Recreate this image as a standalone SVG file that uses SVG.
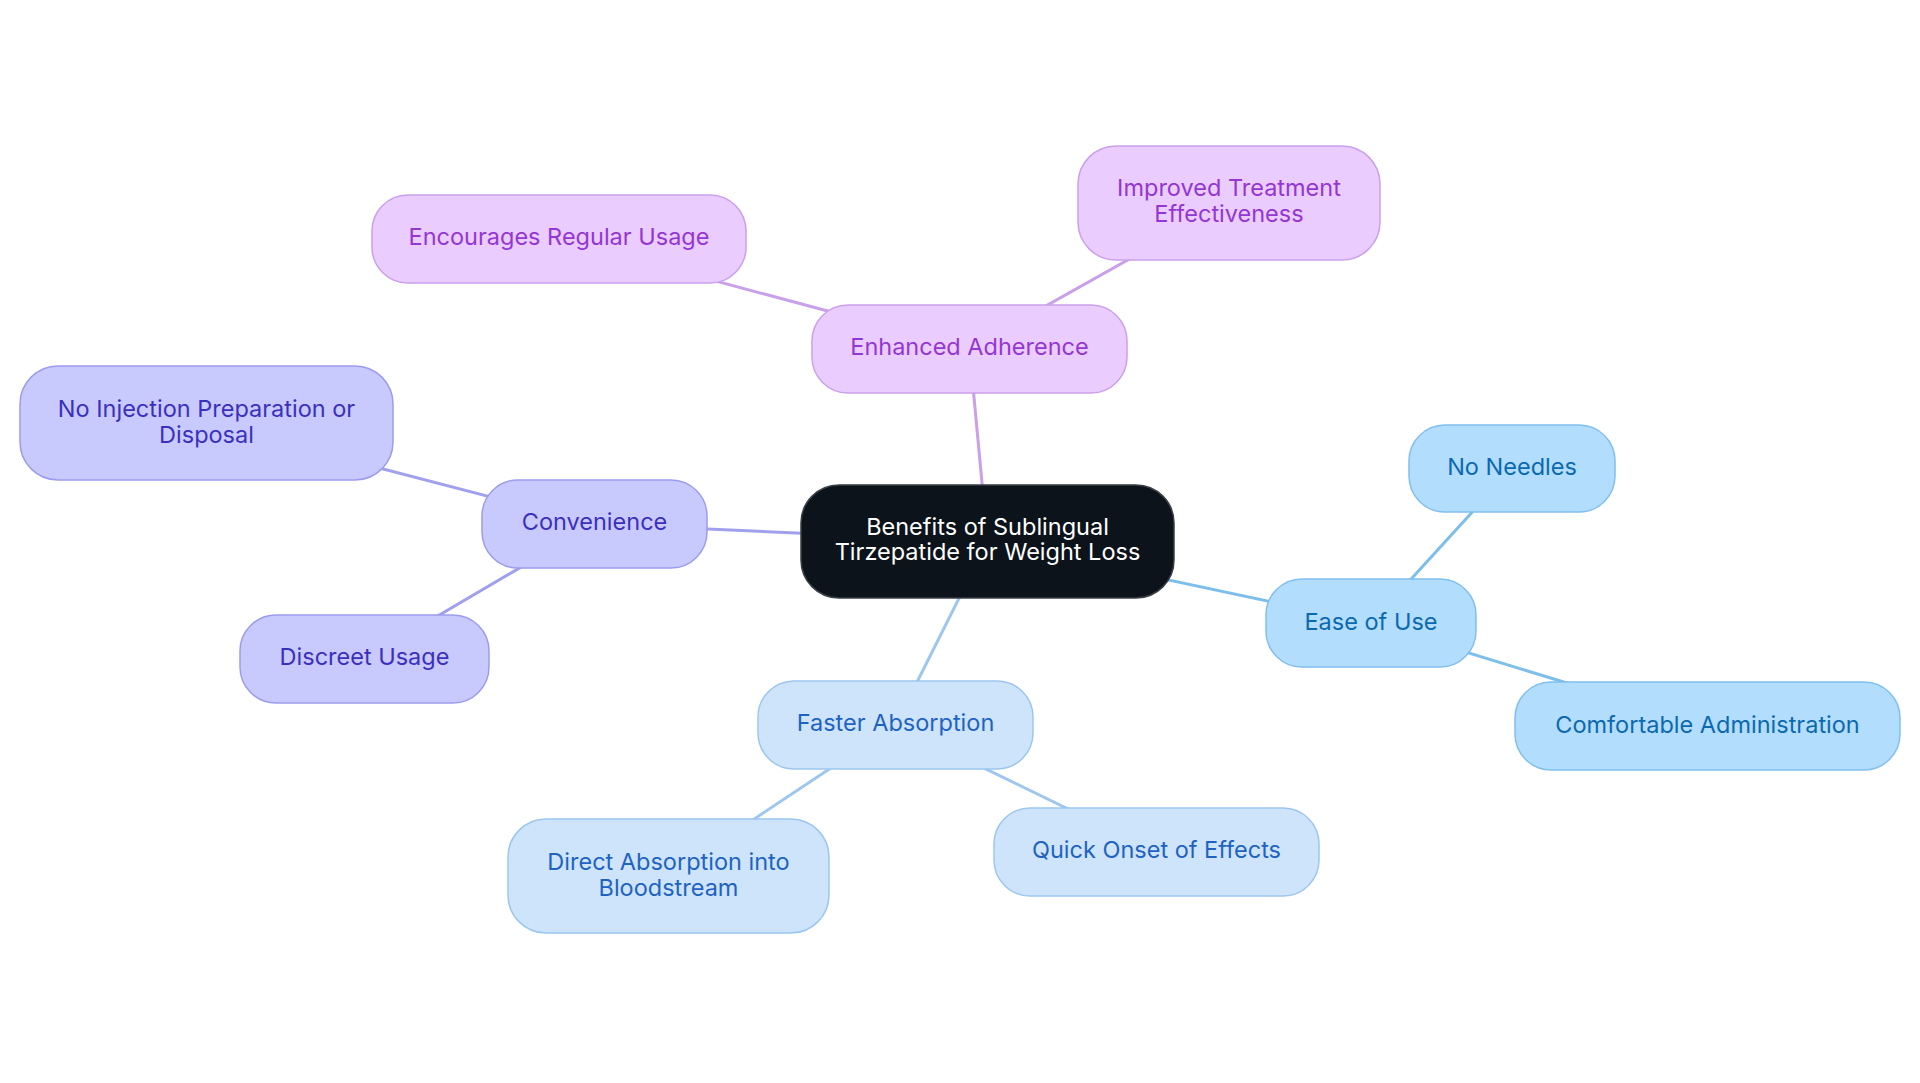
<svg xmlns="http://www.w3.org/2000/svg" width="1920" height="1083" viewBox="0 0 1920 1083">
<style>
text{font-family:Inter,"Noto Sans","Liberation Sans",sans-serif;font-size:23.5px;text-anchor:middle}
.c0 rect{fill:#0d131a;stroke:#3a3f46;stroke-width:1.5}
.c0 text{fill:#ffffff}
.pu rect{fill:#eaccfe;stroke:#caa0ec;stroke-width:1.5}
.pu text{fill:#9436d4}
.in rect{fill:#c8c9fd;stroke:#9c9cee;stroke-width:1.5}
.in text{fill:#3b30bd}
.lb rect{fill:#cee4fb;stroke:#9cc6ef;stroke-width:1.5}
.lb text{fill:#1e63c2}
.sb rect{fill:#b3ddfc;stroke:#80bfee;stroke-width:1.5}
.sb text{fill:#0b69b0}
#connectors line{stroke-width:3;stroke-linecap:round}
.lpu{stroke:#c9a0ea}
.lin{stroke:#a0a0ec}
.llb{stroke:#9fc6ee}
.lsb{stroke:#7dbfea}
</style>
<rect width="1920" height="1083" fill="#ffffff"/>
<g id="connectors">
<line class="lpu" x1="987.5" y1="541.5" x2="969.5" y2="349"/>
<line class="lpu" x1="969.5" y1="349" x2="559" y2="239"/>
<line class="lpu" x1="969.5" y1="349" x2="1229" y2="203"/>
<line class="lin" x1="987.5" y1="541.5" x2="594.5" y2="524"/>
<line class="lin" x1="594.5" y1="524" x2="206.5" y2="423"/>
<line class="lin" x1="594.5" y1="524" x2="364.5" y2="659"/>
<line class="lsb" x1="987.5" y1="541.5" x2="1371" y2="623"/>
<line class="lsb" x1="1371" y1="623" x2="1512" y2="468.5"/>
<line class="lsb" x1="1371" y1="623" x2="1707.5" y2="726"/>
<line class="llb" x1="987.5" y1="541.5" x2="895.5" y2="725"/>
<line class="llb" x1="895.5" y1="725" x2="668.5" y2="876"/>
<line class="llb" x1="895.5" y1="725" x2="1156.5" y2="852"/>
</g>
<g id="center" class="c0">
<rect x="801" y="485" width="373" height="113" rx="38"/>
<text x="987.5" y="534.5">Benefits of Sublingual</text>
<text x="987.5" y="560.2">Tirzepatide for Weight Loss</text>
</g>
<g id="enhanced-adherence" class="pu">
<rect x="812" y="305" width="315" height="88" rx="36"/>
<text x="969.5" y="355">Enhanced Adherence</text>
</g>
<g id="encourages-regular-usage" class="pu">
<rect x="372" y="195" width="374" height="88" rx="36"/>
<text x="559" y="245">Encourages Regular Usage</text>
</g>
<g id="improved-treatment" class="pu">
<rect x="1078" y="146" width="302" height="114" rx="38"/>
<text x="1229" y="195.5">Improved Treatment</text>
<text x="1229" y="221.5">Effectiveness</text>
</g>
<g id="convenience" class="in">
<rect x="482" y="480" width="225" height="88" rx="36"/>
<text x="594.5" y="530">Convenience</text>
</g>
<g id="no-injection" class="in">
<rect x="20" y="366" width="373" height="114" rx="38"/>
<text x="206.5" y="416.5">No Injection Preparation or</text>
<text x="206.5" y="442.5">Disposal</text>
</g>
<g id="discreet-usage" class="in">
<rect x="240" y="615" width="249" height="88" rx="36"/>
<text x="364.5" y="665">Discreet Usage</text>
</g>
<g id="ease-of-use" class="sb">
<rect x="1266" y="579" width="210" height="88" rx="36"/>
<text x="1371" y="629.5">Ease of Use</text>
</g>
<g id="no-needles" class="sb">
<rect x="1409" y="425" width="206" height="87" rx="36"/>
<text x="1512" y="475">No Needles</text>
</g>
<g id="comfortable-administration" class="sb">
<rect x="1515" y="682" width="385" height="88" rx="36"/>
<text x="1707.5" y="732.5">Comfortable Administration</text>
</g>
<g id="faster-absorption" class="lb">
<rect x="758" y="681" width="275" height="88" rx="36"/>
<text x="895.5" y="731">Faster Absorption</text>
</g>
<g id="direct-absorption" class="lb">
<rect x="508" y="819" width="321" height="114" rx="38"/>
<text x="668.5" y="869.5">Direct Absorption into</text>
<text x="668.5" y="895.5">Bloodstream</text>
</g>
<g id="quick-onset" class="lb">
<rect x="994" y="808" width="325" height="88" rx="36"/>
<text x="1156.5" y="858">Quick Onset of Effects</text>
</g>
</svg>
